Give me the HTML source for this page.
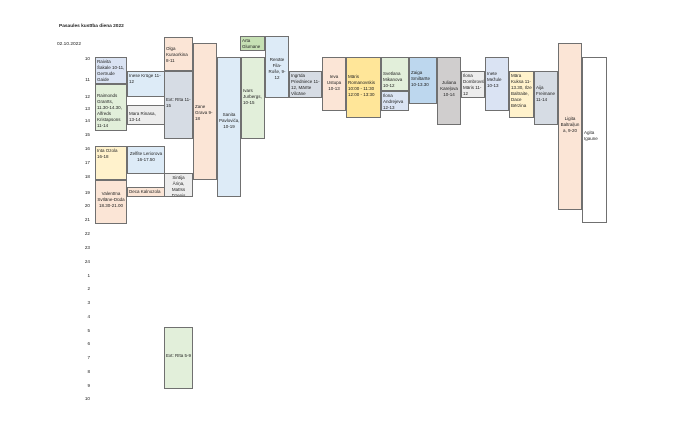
<!DOCTYPE html>
<html><head><meta charset="utf-8"><style>
body{margin:0;width:700px;height:441px;background:#fff;position:relative;overflow:hidden;font-family:"Liberation Sans",sans-serif;color:#222}
.b{position:absolute;box-sizing:border-box;border:1px solid #707070;font-size:4.5px;line-height:6px;padding:1px;overflow:hidden}
.c{text-align:center}
.t{position:absolute;font-size:4.6px;width:12px;text-align:right;left:78px}
.x{position:absolute;font-size:4.8px}
</style></head><body>
<div class="x" style="left:59px;top:24px;font-weight:bold">Pasaules kustība diena 2022</div>
<div class="x" style="left:57px;top:42px">02.10.2022</div>
<div class="t" style="top:56px">10</div><div class="t" style="top:77px">11</div><div class="t" style="top:94px">12</div><div class="t" style="top:106px">13</div><div class="t" style="top:118px">14</div><div class="t" style="top:132px">15</div><div class="t" style="top:146px">16</div><div class="t" style="top:160px">17</div><div class="t" style="top:174px">18</div><div class="t" style="top:190px">19</div><div class="t" style="top:203px">20</div><div class="t" style="top:217px">21</div><div class="t" style="top:231px">22</div><div class="t" style="top:245px">23</div><div class="t" style="top:259px">24</div><div class="t" style="top:273px">1</div><div class="t" style="top:286px">2</div><div class="t" style="top:300px">3</div><div class="t" style="top:314px">4</div><div class="t" style="top:328px">5</div><div class="t" style="top:341px">6</div><div class="t" style="top:355px">7</div><div class="t" style="top:369px">8</div><div class="t" style="top:383px">9</div><div class="t" style="top:396px">10</div>

<div class="b" style="left:95px;top:57px;width:32px;height:27px;background:#dae3f3">Raivita Šakale 10-11, Gertrude Gaide</div>
<div class="b" style="left:95px;top:84px;width:32px;height:47px;background:#e2efda;padding-top:8px">Raimonds Granīts, 11.30-14.30, Alfreds Kristapsons 11-14</div>
<div class="b" style="left:127px;top:71px;width:38px;height:26px;background:#ddebf7">Inese Krūge 11-12</div>
<div class="b" style="left:127px;top:105px;width:38px;height:20px;background:#ededed;padding-top:5px">Mara Rinasa, 13-14</div>
<div class="b" style="left:164px;top:37px;width:29px;height:34px;background:#fbe5d6;padding-top:8px">Olga Kuraorkina 8-11</div>
<div class="b" style="left:164px;top:71px;width:29px;height:68px;background:#d6dce4;padding-top:25px">Ext: Rīta 11-15</div>
<div class="b" style="left:193px;top:43px;width:24px;height:137px;background:#fbe5d6;padding-top:60px">Zane Grava 9-18</div>
<div class="b c" style="left:217px;top:57px;width:24px;height:140px;background:#ddebf7;padding-top:54px">Sanita Pavlovića, 10-19</div>
<div class="b" style="left:240px;top:36px;width:25px;height:15px;background:#c6e0b4">Arta Glumane</div>
<div class="b" style="left:241px;top:57px;width:24px;height:82px;background:#e2efda;padding-top:30px">Ivars Jurbergs, 10-15</div>
<div class="b c" style="left:265px;top:36px;width:24px;height:62px;background:#ddebf7;padding-top:20px">Renāte Fila-Roše, 9-12</div>
<div class="b" style="left:95px;top:146px;width:32px;height:34px;background:#fff2cc">Inta Ozola 16-18</div>
<div class="b c" style="left:95px;top:180px;width:32px;height:44px;background:#fbe5d6;padding-top:10px">Valentīna Svīlāne-Dūda 18.30-21.00</div>
<div class="b c" style="left:127px;top:146px;width:38px;height:28px;background:#ddebf7;padding-top:4px">Zelfite Leriorova 16-17.50</div>
<div class="b" style="left:127px;top:187px;width:38px;height:10px;background:#fbe5d6">Deca Kalnozola</div>
<div class="b c" style="left:164px;top:173px;width:29px;height:24px;background:#ededed">Sintija Āriņa, Matīss Dzenis</div>
<div class="b" style="left:164px;top:327px;width:29px;height:62px;background:#e2efda;padding-top:25px">Ext: Rīta 5-9</div>

<div class="b" style="left:289px;top:71px;width:33px;height:27px;background:#d6dce4">Ingrīda Priedniece 11-12, Mārīte Vilcāne</div>
<div class="b c" style="left:322px;top:57px;width:24px;height:54px;background:#fbe5d6;padding-top:16px">Ieva Ustupa 10-13</div>
<div class="b" style="left:346px;top:57px;width:35px;height:61px;background:#ffe699;padding-top:16px">Māris Romanovskis 10:00 - 11:30 12:00 - 13:30</div>
<div class="b" style="left:381px;top:57px;width:28px;height:34px;background:#e2efda;padding-top:13px">Svetlana Mikanova 10-12</div>
<div class="b" style="left:381px;top:91px;width:28px;height:20px;background:#dae3f3">Ilona Andrejeva 12-13</div>
<div class="b" style="left:409px;top:57px;width:28px;height:47px;background:#bdd7ee;padding-top:12px">Zaiga Smiltarīte 10-13.30</div>
<div class="b c" style="left:437px;top:57px;width:24px;height:68px;background:#d0cece;padding-top:22px">Juliana Kareļova 10-14</div>
<div class="b" style="left:461px;top:71px;width:24px;height:27px;background:#ededed">Ilona Dombrovska, Māris 11-12</div>
<div class="b" style="left:485px;top:57px;width:24px;height:54px;background:#dae3f3;padding-top:13px">Inete Mežule 10-13</div>
<div class="b" style="left:509px;top:71px;width:25px;height:47px;background:#fff2cc">Māra Kuksa 11-13.30, Ilze Baltraite, Dace Bērzina</div>
<div class="b" style="left:534px;top:71px;width:24px;height:54px;background:#d6dce4;padding-top:13px">Aija Freimane 11-14</div>
<div class="b c" style="left:558px;top:43px;width:24px;height:167px;background:#fbe5d6;padding-top:72px">Ligita Baltraiļun a, 9-20</div>
<div class="b" style="left:582px;top:57px;width:25px;height:166px;background:#fff;padding-top:72px">Agita Igaune</div>
</body></html>
